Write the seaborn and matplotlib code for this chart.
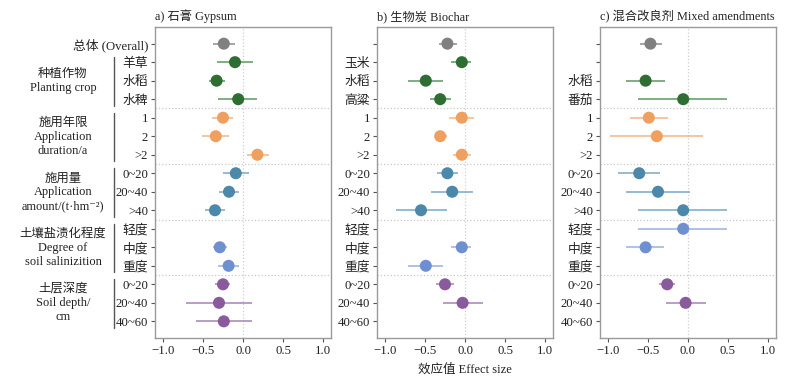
import numpy as np
import pandas as pd
import matplotlib
matplotlib.use('Agg')
import matplotlib.pyplot as plt
import seaborn as sns

nan = np.nan

# rows (top to bottom), shared by the three panels
groups = ['overall', 'crop', 'crop', 'crop', 'dur', 'dur', 'dur',
          'amount', 'amount', 'amount', 'salt', 'salt', 'salt',
          'depth', 'depth', 'depth']

common_labels = ['1', '2', '>2', '0~20', '20~40', '>40',
                 '轻度', '中度', '重度', '0~20', '20~40', '40~60']
labels_a = ['总体 (Overall)', '羊草', '水稻', '水稗'] + common_labels
labels_b = ['', '玉米', '水稻', '高粱'] + common_labels
labels_c = ['', '', '水稻', '番茄'] + common_labels

# effect size and 95% CI
mean_a = [-0.24, -0.10, -0.33, -0.06, -0.25, -0.34, 0.18, -0.09, -0.175, -0.35,
          nan, -0.29, -0.18, -0.25, -0.30, -0.24]
low_a = [-0.38, -0.32, -0.42, -0.31, -0.39, -0.51, 0.05, -0.25, -0.30, -0.47,
         nan, -0.38, -0.31, -0.35, -0.71, -0.59]
high_a = [-0.10, 0.12, -0.22, 0.18, -0.12, -0.18, 0.32, 0.07, -0.05, -0.23,
          nan, -0.20, -0.05, -0.16, 0.11, 0.11]

mean_b = [-0.22, -0.04, -0.49, -0.31, -0.04, -0.31, -0.04, -0.22, -0.16, -0.55,
          nan, -0.04, -0.49, -0.25, -0.03, nan]
low_b = [-0.33, -0.175, -0.71, -0.44, -0.20, -0.37, -0.15, -0.35, -0.42, -0.86,
         nan, -0.175, -0.71, -0.36, -0.28, nan]
high_b = [-0.10, 0.08, -0.27, -0.18, 0.11, -0.22, 0.07, -0.09, 0.10, -0.22,
          nan, 0.08, -0.27, -0.14, 0.22, nan]

mean_c = [-0.47, nan, -0.53, -0.06, -0.49, -0.39, nan, -0.61, -0.375, -0.06,
          -0.06, -0.53, nan, -0.26, -0.03, nan]
low_c = [-0.60, nan, -0.78, -0.62, -0.72, -0.97, nan, -0.87, -0.77, -0.62,
         -0.62, -0.77, nan, -0.36, -0.28, nan]
high_c = [-0.33, nan, -0.29, 0.49, -0.25, 0.19, nan, -0.35, 0.03, 0.49,
          0.49, -0.30, nan, -0.16, 0.22, nan]

titles = ['a) 石膏 Gypsum', 'b) 生物炭 Biochar', 'c) 混合改良剂 Mixed amendments']

group_titles = {
    'crop': '种植作物\nPlanting crop',
    'dur': '施用年限\nApplication\nduration/a',
    'amount': '施用量\nApplication\namount/(t·hm⁻²)',
    'salt': '土壤盐渍化程度\nDegree of\nsoil salinizition',
    'depth': '土层深度\nSoil depth/\ncm',
}

point_colors = {'overall': '#808080', 'crop': '#2f6e33', 'dur': '#ef9f5f',
                'amount': '#4b88aa', 'salt': '#6f90d0', 'depth': '#8a5b9c'}
line_colors = {'overall': '#8c8c8c', 'crop': '#5a9a5c', 'dur': '#f2b585',
               'amount': '#79a8c6', 'salt': '#98b2e0', 'depth': '#a683b5'}

sns.set_theme(style='white')
FONT = ['Liberation Serif', 'Noto Sans CJK SC', 'DejaVu Sans']
plt.rcParams['font.family'] = FONT
plt.rcParams['axes.unicode_minus'] = True

fig = plt.figure(figsize=(8.09, 3.81), dpi=100)
lefts = [155 / 809, 377 / 809, 600 / 809]
w = 176 / 809
bottom = 43 / 381
h = 311 / 381

panels = [(labels_a, mean_a, low_a, high_a),
          (labels_b, mean_b, low_b, high_b),
          (labels_c, mean_c, low_c, high_c)]

rows = np.arange(len(groups))
for i, (labels, mean, low, high) in enumerate(panels):
    ax = fig.add_axes([lefts[i], bottom, w, h])
    df = pd.DataFrame({'row': rows, 'group': groups, 'mean': mean,
                       'low': low, 'high': high}).dropna()

    ax.axvline(0, color='#cfcfcf', lw=0.9, ls=':', zorder=0)
    for yy in [3.5, 6.5, 9.5, 12.5]:
        ax.axhline(yy, color='#c8c8c8', lw=0.9, ls=':', zorder=0)

    for _, r in df.iterrows():
        ax.hlines(r['row'], r['low'], r['high'], color=line_colors[r['group']],
                  lw=1.1, zorder=2)
    sns.scatterplot(data=df, x='mean', y='row', hue='group',
                    palette=point_colors, s=75, edgecolor='none',
                    legend=False, ax=ax, zorder=3)

    ax.set_xlim(-1.1, 1.1)
    ax.set_ylim(15.9, -0.9)
    ax.set_xticks([-1.0, -0.5, 0.0, 0.5, 1.0])
    ax.set_xticklabels(['−1.0', '−0.5', '0.0', '0.5', '1.0'])
    ax.set_yticks(rows)
    ax.set_yticklabels(labels)
    ax.tick_params(axis='both', which='both', length=3, width=0.8,
                   color='#555555', labelsize=9.2, labelcolor='#222222',
                   left=True, bottom=True, pad=2)
    ax.set_xlabel('')
    ax.set_ylabel('')
    for sp in ax.spines.values():
        sp.set_color('#9a9a9a')
        sp.set_linewidth(1.0)
    ax.set_title(titles[i], loc='left', fontsize=8.8, pad=5, color='#222222')

    if i == 1:
        ax.set_xlabel('效应值 Effect size', fontsize=9, labelpad=5,
                      color='#222222')

    if i == 0:
        for g, txt in group_titles.items():
            idx = [k for k, gg in enumerate(groups) if gg == g]
            ax.plot([-0.233, -0.233], [idx[0] - 0.28, idx[-1] + 0.36],
                    color='#555555', lw=1.0, transform=ax.get_yaxis_transform(),
                    clip_on=False)
            ax.text(-0.523, np.mean(idx) + 0.03, txt, transform=ax.get_yaxis_transform(),
                    ha='center', va='center', fontsize=8.9, linespacing=1.2,
                    color='#222222')

fig.savefig('out.png', dpi=100)
